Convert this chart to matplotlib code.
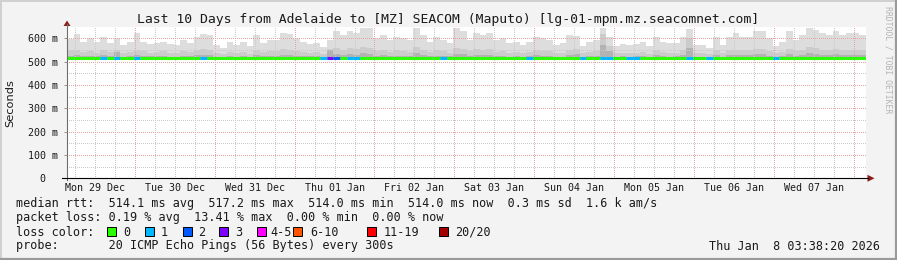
"""
Smokeping style latency graph: last 10 days Adelaide -> Maputo.
"""

import numpy as np
import matplotlib
matplotlib.use('Agg')
import matplotlib.pyplot as plt
from matplotlib.patches import Polygon, Rectangle
from matplotlib.lines import Line2D

W, H = 897, 260

############ **** Data **** ############
t_start = 3 + 38/60 + 20/3600      # hours after Mon 29 Dec 00:00
bin_hours = 2
n_days = 10

day_labels = ['Mon 29 Dec', 'Tue 30 Dec', 'Wed 31 Dec', 'Thu 01 Jan', 'Fri 02 Jan',
              'Sat 03 Jan', 'Sun 04 Jan', 'Mon 05 Jan', 'Tue 06 Jan', 'Wed 07 Jan']

# smoke layers (ms), one value per 2 hour bin
smoke_top = [597, 618, 586, 600, 586, 605, 580, 600, 572, 584, 622, 586, 575, 580, 586, 575, 572, 592, 580, 607,
             618, 614, 572, 557, 586, 570, 586, 565, 614, 580, 592, 592, 622, 618, 600, 586, 576, 580, 561, 593,
             630, 614, 633, 622, 643, 643, 600, 614, 592, 607, 600, 592, 643, 614, 586, 607, 592, 580, 643, 630,
             592, 622, 614, 622, 592, 600, 580, 586, 572, 586, 607, 600, 592, 572, 580, 614, 612, 565, 586, 592,
             643, 607, 565, 575, 572, 575, 586, 565, 607, 586, 580, 580, 607, 640, 572, 572, 557, 607, 572, 607,
             622, 607, 607, 630, 630, 600, 565, 586, 630, 592, 614, 643, 636, 622, 614, 630, 614, 622, 622, 614]
smoke_mid = [548, 552, 540, 545, 538, 550, 542, 548, 536, 540, 552, 545, 538, 540, 544, 536, 535, 546, 540, 550,
             555, 552, 536, 532, 542, 535, 540, 534, 550, 540, 545, 544, 556, 552, 546, 540, 538, 540, 532, 555,
             558, 552, 560, 555, 562, 560, 546, 550, 542, 548, 545, 542, 562, 550, 540, 548, 544, 538, 560, 556,
             544, 554, 550, 555, 542, 546, 538, 540, 535, 540, 548, 546, 544, 535, 538, 550, 556, 535, 540, 544,
             620, 565, 535, 538, 536, 538, 540, 534, 548, 540, 538, 538, 548, 600, 536, 535, 532, 548, 536, 548,
             552, 548, 548, 556, 556, 546, 535, 540, 556, 545, 550, 562, 558, 552, 550, 556, 550, 552, 552, 550]
smoke_core = [526, 528, 524, 526, 524, 530, 525, 540, 522, 524, 530, 526, 524, 524, 526, 522, 522, 526, 524, 528,
              530, 528, 522, 520, 524, 522, 524, 520, 528, 524, 526, 526, 530, 528, 526, 524, 524, 524, 520, 550,
              532, 530, 534, 530, 536, 534, 526, 528, 524, 526, 526, 524, 536, 528, 524, 526, 526, 524, 534, 532,
              526, 530, 528, 530, 524, 526, 522, 524, 520, 524, 528, 526, 526, 520, 522, 528, 532, 522, 524, 526,
              570, 545, 522, 524, 522, 524, 524, 520, 528, 524, 522, 524, 528, 560, 522, 522, 520, 528, 522, 528,
              530, 528, 528, 532, 532, 526, 520, 524, 532, 526, 528, 536, 534, 530, 528, 532, 528, 530, 530, 528]
smoke_floor = 507

median_rtt = [514, 514, 516, 514, 514, 515, 516, 514, 516, 514, 514, 515, 514, 514, 514, 514, 514, 514, 514, 514,
              516, 514, 514, 514, 514, 514, 514, 514, 514, 514, 514, 514, 514, 514, 514, 514, 514, 514, 514, 515,
              514, 514, 514, 514, 514, 514, 514, 514, 514, 514, 514, 514, 514, 514, 514, 514, 516, 516, 514, 514,
              514, 514, 514, 514, 514, 514, 514, 514, 514, 515, 514, 514, 514, 514, 514, 514, 514, 514, 514, 514,
              516, 516, 514, 515, 514, 514, 514, 516, 514, 514, 514, 514, 516, 514, 514, 514, 514, 514, 514, 514,
              514, 516, 514, 514, 514, 516, 514, 514, 514, 514, 514, 514, 514, 515, 514, 514, 514, 514, 514, 514]

# lost pings out of 20, per bin
loss = [0, 0, 0, 0, 0, 1, 0, 1, 0, 0, 1, 0, 0, 0, 0, 0, 0, 0, 0, 0,
        1, 0, 0, 0, 0, 0, 0, 0, 0, 0, 0, 0, 0, 0, 0, 0, 0, 0, 1, 3,
        2, 0, 1, 1, 0, 0, 0, 0, 0, 0, 0, 0, 0, 0, 0, 0, 1, 0, 0, 0,
        0, 0, 0, 0, 0, 0, 0, 0, 0, 1, 0, 0, 0, 0, 0, 0, 0, 1, 0, 0,
        1, 1, 0, 0, 1, 1, 0, 0, 0, 0, 0, 0, 0, 1, 0, 0, 1, 0, 0, 0,
        0, 0, 0, 0, 0, 0, 1, 0, 0, 0, 0, 0, 0, 0, 0, 0, 0, 0, 0, 0]

legend_keys = ['0', '1', '2', '3', '4-5', '6-10', '11-19', '20/20']
legend_max = [0, 1, 2, 3, 5, 10, 19, 20]
legend_colors = ['#26ff00', '#00b8ff', '#0059ff', '#7e00ff', '#ff00ff', '#ff5500', '#ff0000', '#a00000']

title = 'Last 10 Days from Adelaide to [MZ] SEACOM (Maputo) [lg-01-mpm.mz.seacomnet.com]'
line_rtt = 'median rtt:  514.1 ms avg  517.2 ms max  514.0 ms min  514.0 ms now  0.3 ms sd  1.6 k am/s'
line_loss = 'packet loss: 0.19 % avg  13.41 % max  0.00 % min  0.00 % now'
line_probe = 'probe:       20 ICMP Echo Pings (56 Bytes) every 300s'
stamp = 'Thu Jan  8 03:38:20 2026'


def fx(x):
    return x / W


def fy(y):
    return 1 - y / H


def loss_color(n):
    for m, c in zip(legend_max, legend_colors):
        if n <= m:
            return c
    return legend_colors[-1]


############ **** Figure **** ############
mono = 'DejaVu Sans Mono'
txt = '#1a1a1a'
fig = plt.figure(figsize=(W/100, H/100), dpi=100, facecolor='#f3f3f3')

# shaded border
fig.add_artist(Line2D([0, 1], [fy(0.5), fy(0.5)], color='#d0d0d0', lw=1.4))
fig.add_artist(Line2D([fx(0.5), fx(0.5)], [0, 1], color='#d0d0d0', lw=1.4))
fig.add_artist(Line2D([0, 1], [fy(H-1), fy(H-1)], color='#9a9a9a', lw=1.6))
fig.add_artist(Line2D([fx(W-1), fx(W-1)], [0, 1], color='#9a9a9a', lw=1.6))

x0, x1, y0, y1 = 67, 866, 178.3, 27.3
ax = fig.add_axes([fx(x0), fy(y0), fx(x1 - x0), (y0 - y1) / H])
ax.set_facecolor('white')
t_end = t_start + n_days * 24
ax.set_xlim(t_start, t_end)
ax.set_ylim(0, (y0 - y1) / 0.23333)
for s in ax.spines.values():
    s.set_visible(False)

edges = t_start + np.arange(len(smoke_top) + 1) * bin_hours

# smoke
ax.stairs(smoke_top, edges, baseline=smoke_floor, fill=True, color='#dddddd', lw=0, zorder=1)
ax.stairs(smoke_mid, edges, baseline=smoke_floor, fill=True, color='#cccccc', lw=0, zorder=1.1)
ax.stairs(smoke_core, edges, baseline=smoke_floor, fill=True, color='#b3b3b3', lw=0, zorder=1.2)

# dotted grid on top of smoke
for h in range(6, int(t_end) + 1, 6):
    if h <= t_start:
        continue
    c = '#e6a4a4' if h % 24 == 0 else '#cacaca'
    ax.axvline(h, color=c, lw=0.72, ls=(0, (1, 2)), antialiased=False, zorder=2)
for v in range(50, 650, 50):
    c = '#e6a4a4' if v % 100 == 0 else '#cacaca'
    ax.axhline(v, color=c, lw=0.72, ls=(0, (1, 2)), antialiased=False, zorder=2)

# median line coloured by loss
cols = [loss_color(n) for n in loss]
ax.hlines(median_rtt, edges[:-1], edges[1:], colors=cols, lw=2.2, capstyle='butt', zorder=4)

# ticks
ax.set_yticks(range(0, 700, 100))
ax.set_yticklabels(['0  '] + ['%d m' % v for v in range(100, 700, 100)])
ax.set_xticks([12 + 24*k for k in range(n_days)])
ax.set_xticklabels(day_labels)
ax.tick_params(axis='y', length=2, width=0.7, color='#909090', pad=4.3, labelsize=7.2, labelcolor=txt)
ax.tick_params(axis='x', length=0, pad=3.2, labelsize=7.2, labelcolor=txt)
for lab in ax.get_xticklabels() + ax.get_yticklabels():
    lab.set_family(mono)

# axes with arrows
fig.add_artist(Line2D([fx(x0), fx(x0)], [fy(y0 + 2), fy(24)], color='#6e6e6e', lw=0.8))
fig.add_artist(Line2D([fx(62), fx(868)], [fy(y0), fy(y0)], color='black', lw=0.8))
fig.add_artist(Polygon([[fx(67), fy(20.5)], [fx(63.5), fy(26)], [fx(70.5), fy(26)]], closed=True,
                       color='#8b1c1c', lw=0))
fig.add_artist(Polygon([[fx(874.5), fy(y0)], [fx(867.5), fy(y0 - 3.5)], [fx(867.5), fy(y0 + 3.5)]],
                       closed=True, color='#8b1c1c', lw=0))

############ **** Texts **** ############
fig.text(fx(448.5), fy(19), title, family=mono, fontsize=9.45, color=txt, ha='center', va='center')
fig.text(fx(10), fy(102.7), 'Seconds', family='DejaVu Sans', fontsize=8.2, color=txt,
         rotation=90, ha='center', va='center')
fig.text(fx(888), fy(60), 'RRDTOOL / TOBI OETIKER', family=mono, fontsize=5.9, color='#b4b4b4',
         rotation=270, ha='center', va='center')

fig.text(fx(16), fy(204), line_rtt, family=mono, fontsize=8.5, color=txt, va='center')
fig.text(fx(16), fy(218), line_loss, family=mono, fontsize=8.5, color=txt, va='center')
fig.text(fx(16), fy(232), 'loss color:', family=mono, fontsize=8.5, color=txt, va='center')
fig.text(fx(16), fy(246), line_probe, family=mono, fontsize=8.5, color=txt, va='center')
fig.text(fx(880), fy(246), stamp, family=mono, fontsize=8.5, color=txt, ha='right', va='center')

sq_x = [107.3, 145.3, 182.7, 219.3, 256.7, 293.3, 366.7, 439.3]
lab_x = [123.3, 161, 198, 235, 270.5, 310, 383.3, 455]
for sx, lx, key, c in zip(sq_x, lab_x, legend_keys, legend_colors):
    fig.add_artist(Rectangle((fx(sx), fy(236.4)), fx(9), 9/H, facecolor=c, edgecolor='black', lw=0.7))
    fig.text(fx(lx), fy(232), key, family=mono, fontsize=8.5, color=txt, va='center')

fig.savefig('out.png', dpi=100, facecolor=fig.get_facecolor())
